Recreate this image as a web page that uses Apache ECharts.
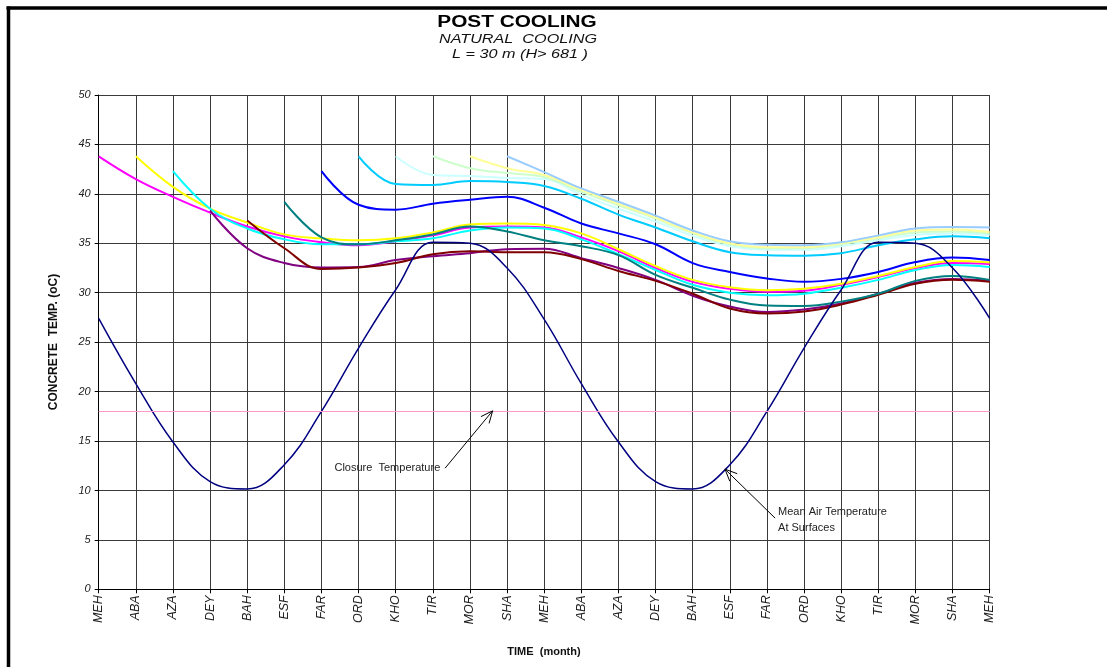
<!DOCTYPE html>
<html>
<head>
<meta charset="utf-8">
<script src="https://cdn.jsdelivr.net/npm/echarts@6/dist/echarts.min.js"></script>
<style>html,body{margin:0;padding:0;background:#fff}#c{width:1107px;height:667px}</style>
</head>
<body>
<div id="c"></div>
<script>
const _ = null;
const MONTHS = ['MEH','ABA','AZA','DEY','BAH','ESF','FAR','ORD','KHO','TIR','MOR','SHA','MEH','ABA','AZA','DEY','BAH','ESF','FAR','ORD','KHO','TIR','MOR','SHA','MEH'];
const Y_TICKS = [0,5,10,15,20,25,30,35,40,45,50];
const CLOSURE_TEMP = 18;

const airTemp     = [27.4, 20.8, 14.9, 10.9, 10.15, 12.6, 18.0, 24.4, 30.3, 35.1, 35.0, 32.5, 27.3, 20.8, 14.9, 10.9, 10.15, 12.6, 18.0, 24.4, 30.3, 35.1, 35.0, 32.5, 27.4];
const pourMEH     = [43.8, 41.5, 39.7, 38.1, 36.7, 35.7, 35.1, 34.8, 35.2, 35.8, 36.6, 36.7, 36.6, 35.6, 34.2, 32.5, 31.1, 30.4, 30.1, 30.2, 30.8, 31.6, 32.5, 33.0, 32.9];
const pourABA     = [_, 43.8, 40.7, 38.5, 37.1, 35.9, 35.5, 35.3, 35.5, 36.1, 36.9, 37.0, 36.85, 36.0, 34.4, 32.7, 31.3, 30.55, 30.25, 30.4, 30.9, 31.7, 32.6, 33.2, 33.05];
const pourAZA     = [_, _, 42.3, 38.5, 36.5, 35.4, 34.9, 34.9, 35.2, 35.5, 36.3, 36.6, 36.5, 35.4, 33.9, 32.3, 30.8, 30.0, 29.75, 29.9, 30.5, 31.3, 32.3, 32.8, 32.6];
const pourDEY     = [_, _, _, 38.3, 34.5, 33.0, 32.55, 32.6, 33.3, 33.7, 34.0, 34.4, 34.45, 33.5, 32.5, 31.3, 29.7, 28.6, 28.05, 28.3, 28.9, 29.9, 31.0, 31.4, 31.2];
const pourBAH     = [_, _, _, _, 37.3, 34.5, 32.4, 32.55, 33.0, 33.9, 34.2, 34.1, 34.1, 33.4, 32.2, 31.2, 29.9, 28.4, 27.9, 28.1, 28.8, 29.8, 30.9, 31.3, 31.1];
const pourESF     = [_, _, _, _, _, 39.2, 35.6, 34.9, 35.3, 35.9, 36.7, 36.2, 35.3, 34.7, 33.8, 31.8, 30.5, 29.3, 28.7, 28.65, 29.1, 29.9, 31.2, 31.7, 31.3];
const pourFAR     = [_, _, _, _, _, _, 42.3, 38.9, 38.4, 39.0, 39.4, 39.7, 38.6, 37.0, 36.0, 34.9, 33.0, 32.1, 31.45, 31.1, 31.4, 32.1, 33.1, 33.55, 33.3];
const pourORD     = [_, _, _, _, _, _, _, 43.8, 41.0, 40.9, 41.3, 41.2, 40.8, 39.5, 37.9, 36.6, 35.2, 34.1, 33.8, 33.75, 34.0, 34.8, 35.4, 35.7, 35.5];
const pourKHO     = [_, _, _, _, _, _, _, _, 43.8, 41.9, 41.8, 41.6, 41.5, 39.9, 38.5, 37.2, 35.75, 34.7, 34.35, 34.35, 34.7, 35.3, 35.85, 36.0, 35.85];
const pourTIR     = [_, _, _, _, _, _, _, _, _, 43.8, 42.6, 42.1, 41.7, 40.2, 38.85, 37.5, 36.0, 34.9, 34.5, 34.5, 34.9, 35.5, 36.1, 36.2, 36.0];
const pourMOR     = [_, _, _, _, _, _, _, _, _, _, 43.8, 42.6, 41.9, 40.4, 39.0, 37.6, 36.1, 35.0, 34.6, 34.6, 35.0, 35.6, 36.3, 36.4, 36.15];
const pourSHA     = [_, _, _, _, _, _, _, _, _, _, _, 43.8, 42.2, 40.55, 39.2, 37.8, 36.3, 35.2, 34.85, 34.8, 35.1, 35.8, 36.5, 36.65, 36.6];

// annotation anchors in data space [month index, temperature]
const CLOSURE_ARROW = {from: [9.33, 12.25], to: [10.61, 18.05]};
const CLOSURE_LABEL = [9.2, 12.25];
const AIR_ARROW = {from: [18.22, 7.2], to: [16.87, 12.15]};
const AIR_LABEL = [18.3, 7.0];

const FONT = "'Liberation Sans', Arial, Helvetica, sans-serif";

const concrete = [
  {name: 'MEH', data: pourMEH, color: '#ff00ff'},
  {name: 'ABA', data: pourABA, color: '#ffff00'},
  {name: 'AZA', data: pourAZA, color: '#00ffff'},
  {name: 'DEY', data: pourDEY, color: '#800080'},
  {name: 'BAH', data: pourBAH, color: '#800000'},
  {name: 'ESF', data: pourESF, color: '#008080'},
  {name: 'FAR', data: pourFAR, color: '#0000ff'},
  {name: 'ORD', data: pourORD, color: '#00ccff'},
  {name: 'KHO', data: pourKHO, color: '#ccffff'},
  {name: 'TIR', data: pourTIR, color: '#ccffcc'},
  {name: 'MOR', data: pourMOR, color: '#ffff99'},
  {name: 'SHA', data: pourSHA, color: '#99ccff'}
];

const toPairs = arr => arr.map((v, i) => [i, v]).filter(p => p[1] !== null);

const series = concrete.map(s => ({
  name: s.name, type: 'line', data: toPairs(s.data), smooth: 0.4,
  showSymbol: false, symbol: 'none', silent: true,
  lineStyle: {color: s.color, width: 2}, z: 3
}));
series.push({
  name: 'Mean Air Temperature', type: 'line', data: toPairs(airTemp), smooth: 0.4,
  showSymbol: false, symbol: 'none', silent: true,
  lineStyle: {color: '#000080', width: 1.5}, z: 4,
  markLine: {
    silent: true, symbol: 'none', animation: false,
    label: {show: false},
    lineStyle: {color: '#ff99cc', width: 1, type: 'solid'},
    data: [{yAxis: CLOSURE_TEMP}]
  }
});

const chart = echarts.init(document.getElementById('c'), null, {renderer: 'canvas'});
chart.setOption({
  animation: false,
  backgroundColor: '#fff',
  grid: {left: 98.7, right: 117.3, top: 95, bottom: 77.7, containLabel: false},
  xAxis: {
    type: 'value', min: 0, max: MONTHS.length - 1, interval: 1,
    axisLine: {show: true, lineStyle: {color: '#000', width: 1}},
    axisTick: {show: true, length: 4, lineStyle: {color: '#000'}},
    axisLabel: {
      rotate: 90, margin: 6, fontSize: 12.5, fontStyle: 'italic', color: '#222', fontFamily: FONT,
      formatter: v => MONTHS[v] || ''
    },
    splitLine: {show: true, lineStyle: {color: '#3a3a3a', width: 1}}
  },
  yAxis: {
    type: 'value', min: Y_TICKS[0], max: Y_TICKS[Y_TICKS.length - 1], interval: 5,
    axisLine: {show: true, lineStyle: {color: '#000', width: 1}},
    axisTick: {show: true, length: 4, inside: false, lineStyle: {color: '#000'}},
    axisLabel: {margin: 8, fontSize: 11, fontStyle: 'italic', color: '#222', fontFamily: FONT},
    splitLine: {show: true, lineStyle: {color: '#3a3a3a', width: 1}}
  },
  series: series
});

function px(p) { return chart.convertToPixel({xAxisIndex: 0, yAxisIndex: 0}, p); }
function arrow(a) {
  const f = px(a.from), t = px(a.to);
  const ang = Math.atan2(f[1] - t[1], f[0] - t[0]);
  const L = 13, spread = 0.42;
  const b1 = [t[0] + L * Math.cos(ang + spread), t[1] + L * Math.sin(ang + spread)];
  const b2 = [t[0] + L * Math.cos(ang - spread), t[1] + L * Math.sin(ang - spread)];
  return [
    {type: 'line', shape: {x1: f[0], y1: f[1], x2: t[0], y2: t[1]}, style: {stroke: '#000', lineWidth: 1}, z: 10},
    {type: 'polyline', shape: {points: [b1, t, b2]}, style: {stroke: '#000', lineWidth: 1, fill: null}, z: 10}
  ];
}
const cl = px(CLOSURE_LABEL), al = px(AIR_LABEL);
const graphics = [
  // outer frame
  {type: 'line', shape: {x1: 6.5, y1: 8, x2: 1107, y2: 8}, style: {stroke: '#000', lineWidth: 3.5}, z: 20},
  {type: 'line', shape: {x1: 8.5, y1: 6.5, x2: 8.5, y2: 667}, style: {stroke: '#000', lineWidth: 3.5}, z: 20},
  // titles
  {type: 'text', x: 517, y: 22.5, scaleX: 1.3, style: {text: 'POST COOLING', font: 'bold 16px ' + FONT, fill: '#000', align: 'center', verticalAlign: 'middle'}},
  {type: 'text', x: 518, y: 40, scaleX: 1.35, style: {text: 'NATURAL  COOLING', font: 'italic 12px ' + FONT, fill: '#111', align: 'center', verticalAlign: 'middle'}},
  {type: 'text', x: 520, y: 55, scaleX: 1.35, style: {text: 'L = 30 m (H> 681 )', font: 'italic 12px ' + FONT, fill: '#111', align: 'center', verticalAlign: 'middle'}},
  // axis names
  {type: 'text', x: 54, y: 342, rotation: Math.PI / 2, style: {text: 'CONCRETE  TEMP. (oC)', font: 'bold 12px ' + FONT, fill: '#111', align: 'center', verticalAlign: 'middle'}},
  {type: 'text', x: 544, y: 652, style: {text: 'TIME  (month)', font: 'bold 11px ' + FONT, fill: '#111', align: 'center', verticalAlign: 'middle'}},
  // annotations
  {type: 'text', x: cl[0], y: cl[1], style: {text: 'Closure  Temperature', font: '11px ' + FONT, fill: '#222', align: 'right', verticalAlign: 'middle'}, z: 10},
  {type: 'text', x: al[0], y: al[1], style: {text: 'Mean Air Temperature\nAt Surfaces', font: '11px ' + FONT, lineHeight: 16, fill: '#222', align: 'left', verticalAlign: 'middle'}, z: 10}
].concat(arrow(CLOSURE_ARROW), arrow(AIR_ARROW));
chart.setOption({graphic: graphics});
</script>
</body>
</html>
